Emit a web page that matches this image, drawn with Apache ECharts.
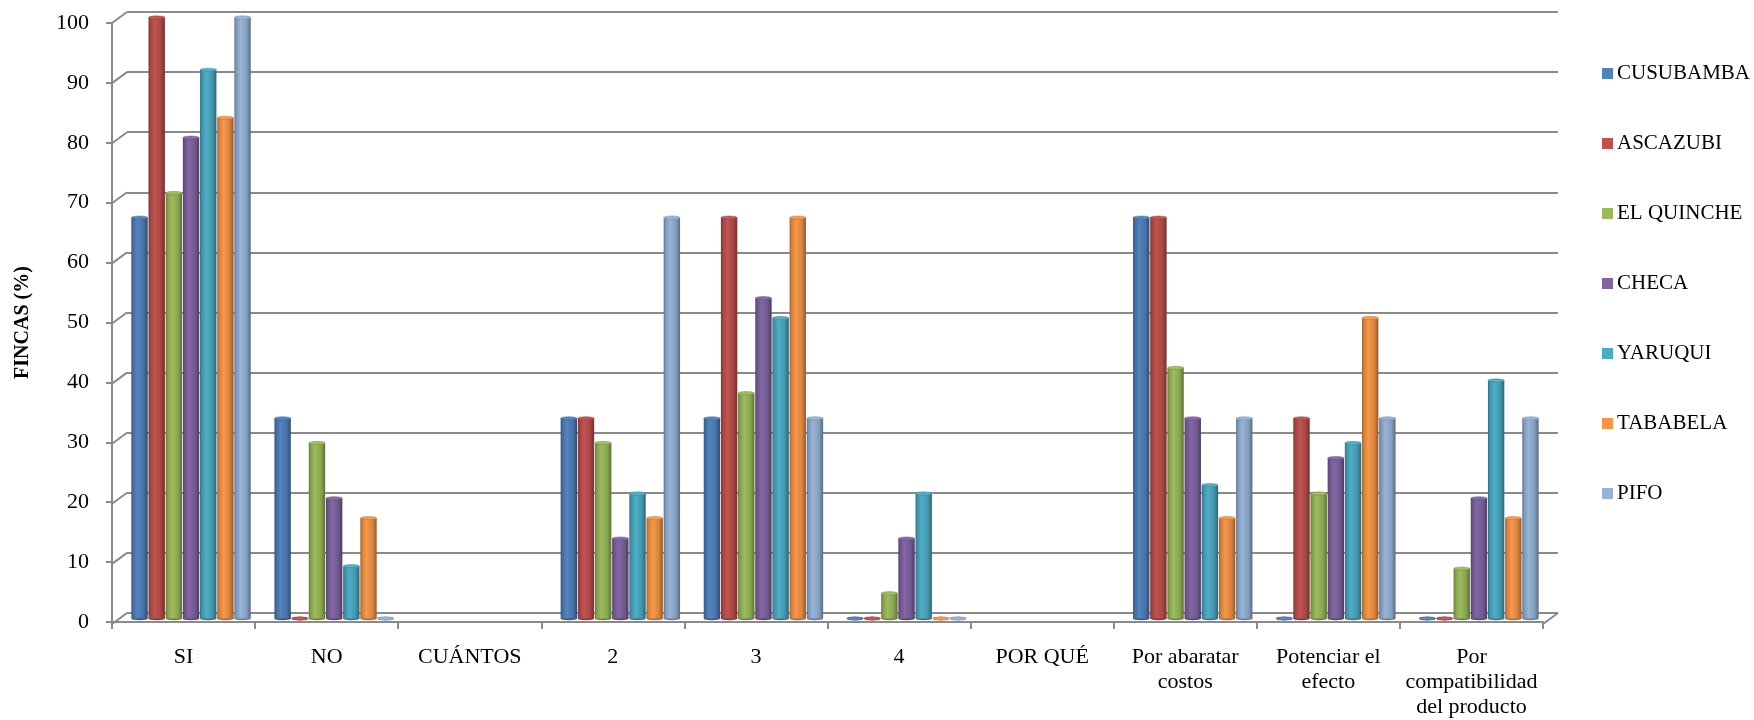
<!DOCTYPE html>
<html>
<head>
<meta charset="utf-8">
<script src="https://cdn.jsdelivr.net/npm/echarts@6/dist/echarts.min.js"></script>
<style>
html,body{margin:0;padding:0;background:#fff;}
#chart{width:1754px;height:720px;}
</style>
</head>
<body>
<div id="chart"></div>
<script>
// ---- data ----
const categories = ['SI', 'NO', 'CUÁNTOS', '2', '3', '4', 'POR QUÉ',
  'Por abaratar\ncostos', 'Potenciar el\nefecto', 'Por\ncompatibilidad\ndel producto'];
const seriesNames = ['CUSUBAMBA', 'ASCAZUBI', 'EL QUINCHE', 'CHECA', 'YARUQUI', 'TABABELA', 'PIFO'];
const cusubamba = [66.7, 33.3, null, 33.3, 33.3, 0, null, 66.7, 0, 0];
const ascazubi  = [100, 0, null, 33.3, 66.7, 0, null, 66.7, 33.3, 0];
const elQuinche = [70.8, 29.2, null, 29.2, 37.5, 4.2, null, 41.7, 20.8, 8.3];
const checa     = [80, 20, null, 13.3, 53.3, 13.3, null, 33.3, 26.7, 20];
const yaruqui   = [91.3, 8.7, null, 20.8, 50, 20.8, null, 22.2, 29.2, 39.6];
const tababela  = [83.3, 16.7, null, 16.7, 66.7, 0, null, 16.7, 50, 16.7];
const pifo      = [100, 0, null, 66.7, 33.3, 0, null, 33.3, 33.3, 33.3];
const seriesValues = [cusubamba, ascazubi, elQuinche, checa, yaruqui, tababela, pifo];
const yTicks = [0, 10, 20, 30, 40, 50, 60, 70, 80, 90, 100];
const yTitle = 'FINCAS (%)';

// ---- style ----
const colors = ['#4F81BD', '#C0504D', '#9BBB59', '#8064A2', '#4BACC6', '#F79646', '#95B3D7'];
const FONT = '"Liberation Serif", "Times New Roman", serif';
const GRID_COLOR = '#8A8A8A';

function shade(hex, f) {
  const n = parseInt(hex.slice(1), 16);
  let r = (n >> 16) & 255, g = (n >> 8) & 255, b = n & 255;
  if (f < 0) { r = r * (1 + f); g = g * (1 + f); b = b * (1 + f); }
  else { r = r + (255 - r) * f; g = g + (255 - g) * f; b = b + (255 - b) * f; }
  return 'rgb(' + Math.round(r) + ',' + Math.round(g) + ',' + Math.round(b) + ')';
}

const N = seriesNames.length;
function makeCylRender(k) {
  const base = colors[k];
  const bodyFill = {
    type: 'linear', x: 0, y: 0, x2: 1, y2: 0,
    colorStops: [
      { offset: 0, color: shade(base, -0.35) },
      { offset: 0.12, color: shade(base, -0.15) },
      { offset: 0.38, color: shade(base, 0.02) },
      { offset: 0.75, color: shade(base, -0.12) },
      { offset: 1, color: shade(base, -0.40) }
    ]
  };
  const topFill = shade(base, 0.05);
  return function (params, api) {
    const v = api.value(1);
    if (v === null || v === undefined || isNaN(v)) return null;
    const ci = api.value(0);
    const band = api.size([1, 0])[0];
    const gw = band * 0.84;
    const bw = gw / N;
    const b = api.coord([ci, 0]);
    const t = api.coord([ci, v]);
    const x0 = b[0] - gw / 2 + k * bw + 0.4;
    const w = bw - 0.8;
    const cx = x0 + w / 2;
    const r = w / 2;
    const sy = 0.2;
    const children = [];
    children.push({ type: 'circle', shape: { cx: 0, cy: 0, r: r }, x: cx, y: b[1], scaleY: sy,
      style: { fill: shade(base, -0.3) } });
    if (b[1] - t[1] > 0.5) {
      children.push({ type: 'rect', shape: { x: x0, y: t[1], width: w, height: b[1] - t[1] },
        style: { fill: bodyFill } });
    }
    children.push({ type: 'circle', shape: { cx: 0, cy: 0, r: r }, x: cx, y: t[1], scaleY: sy,
      style: { fill: topFill, stroke: shade(base, -0.25), lineWidth: 0.8 } });
    return { type: 'group', children: children };
  };
}

const cylSeries = seriesNames.map(function (name, k) {
  return {
    name: name,
    type: 'custom',
    xAxisIndex: 2, yAxisIndex: 2,
    itemStyle: { color: colors[k] },
    renderItem: makeCylRender(k),
    encode: { x: 0, y: 1 },
    data: seriesValues[k].map(function (v, i) { return [i, v === null ? '-' : v]; }),
    z: 5
  };
});

// diagonal connectors from front axis ticks to the back wall
const diagSeries = {
  type: 'custom',
  xAxisIndex: 1, yAxisIndex: 1,
  silent: true,
  renderItem: function (params, api) {
    const cs = params.coordSys;
    const p = api.coord([0, api.value(1)]);
    const children = [{ type: 'line', shape: { x1: cs.x, y1: p[1], x2: cs.x - 15, y2: p[1] + 11 },
      style: { stroke: GRID_COLOR, lineWidth: 2 } }];
    if (api.value(1) === 0) {
      children.push({ type: 'line', shape: { x1: cs.x + cs.width, y1: p[1], x2: cs.x + cs.width - 15, y2: p[1] + 11 },
        style: { stroke: GRID_COLOR, lineWidth: 2 } });
    }
    return { type: 'group', children: children };
  },
  encode: { x: 0, y: 1 },
  data: yTicks.map(function (t) { return [0, t]; }),
  z: 1
};

const chart = echarts.init(document.getElementById('chart'));
chart.setOption({
  animation: false,
  backgroundColor: '#fff',
  textStyle: { fontFamily: FONT },
  grid: [
    { left: 112, right: 211, top: 23, bottom: 96 },     // front
    { left: 127, right: 196, top: 12, bottom: 107 },    // back wall
    { left: 119.5, right: 203.5, top: 17.5, bottom: 101.5 } // bars (mid depth)
  ],
  xAxis: [
    { type: 'category', gridIndex: 0, data: categories,
      axisLine: { show: true, lineStyle: { color: GRID_COLOR, width: 2 } },
      axisTick: { show: true, length: 7, lineStyle: { color: GRID_COLOR, width: 2 } },
      axisLabel: { interval: 0, margin: 23, color: '#000', fontSize: 22, lineHeight: 25, fontFamily: FONT },
      splitLine: { show: false } },
    { type: 'category', gridIndex: 1, data: categories, show: false },
    { type: 'category', gridIndex: 2, data: categories, show: false }
  ],
  yAxis: [
    { type: 'value', gridIndex: 0, min: 0, max: 100, interval: 10,
      name: yTitle, nameLocation: 'middle', nameRotate: 90, nameGap: 79,
      nameTextStyle: { fontSize: 20, fontWeight: 'bold', color: '#000', fontFamily: FONT },
      axisLine: { show: true, lineStyle: { color: GRID_COLOR, width: 2 } },
      axisTick: { show: true, length: 6, lineStyle: { color: GRID_COLOR, width: 2 } },
      axisLabel: { margin: 23, color: '#000', fontSize: 22, fontFamily: FONT },
      splitLine: { show: false } },
    { type: 'value', gridIndex: 1, min: 0, max: 100, interval: 10,
      axisLine: { show: false }, axisTick: { show: false }, axisLabel: { show: false },
      splitLine: { show: true, lineStyle: { color: GRID_COLOR, width: 2 } } },
    { type: 'value', gridIndex: 2, min: 0, max: 100, interval: 10, show: false,
      splitLine: { show: false } }
  ],
  legend: {
    orient: 'vertical',
    left: 1597, top: 58,
    itemWidth: 11, itemHeight: 11, itemGap: 49,
    icon: 'rect',
    data: seriesNames,
    textStyle: { fontSize: 21, color: '#000', fontFamily: FONT, lineHeight: 20, padding: [0, 0, 0, -1] }
  },
  series: [diagSeries].concat(cylSeries)
});
</script>
</body>
</html>
